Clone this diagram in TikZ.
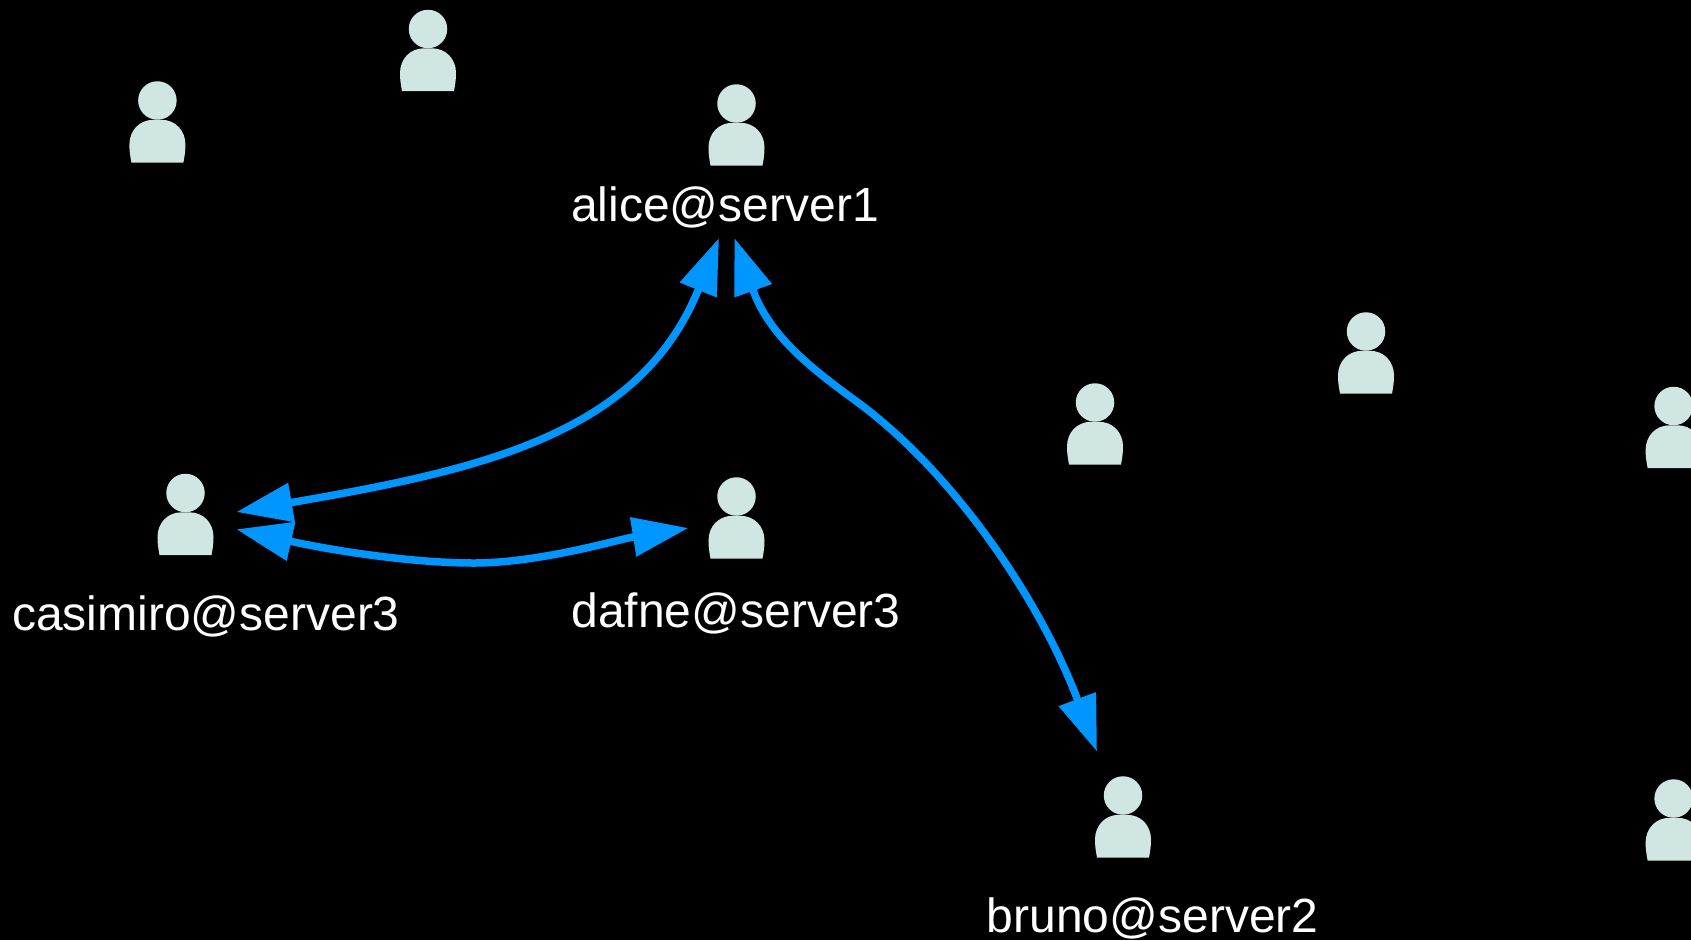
\documentclass[tikz,border=0pt]{standalone}
\usepackage{fontspec}
\setmainfont{Liberation Sans}
\usetikzlibrary{arrows.meta}

\definecolor{personfill}{HTML}{CFE6E3}
\definecolor{linkblue}{HTML}{0096FF}

\tikzset{
  personhead/.style={circle,fill=personfill,inner sep=0pt,minimum size=38.5pt},
  username/.style={anchor=base,text=white,inner sep=0pt,font=\fontsize{48}{56}\selectfont},
  link/.style={draw=linkblue,line width=7.5pt,{Triangle[length=56pt,width=38pt,fill=linkblue]}-{Triangle[length=56pt,width=38pt,fill=linkblue]}},
  person/.pic={
    \node[personhead] (head) at (0,0) {};
    \fill[personfill] (-26,62) -- (26,62) .. controls (27.5,54) and (28,50) .. (28,44)
      .. controls (28,30) and (18,19.3) .. (4,19.3) -- (-4,19.3)
      .. controls (-18,19.3) and (-28,30) .. (-28,44) .. controls (-28,50) and (-27.5,54) .. (-26,62) -- cycle;
  }
}

\begin{document}
\begin{tikzpicture}[x=1pt,y=-1pt]

      \fill[black] (0,0) rectangle (1691,940);
      \useasboundingbox (0,0) rectangle (1691,940);

      \pic (alice) at (736.5,103.5) {person};
      \pic (bruno) at (1123,795.5) {person};
      \pic (casimiro) at (185.5,493) {person};
      \pic (dafne) at (736.5,496.5) {person};
      \pic (userA) at (157.4,100.5) {person};
      \pic (userB) at (428,29) {person};
      \pic (userC) at (1095,402.5) {person};
      \pic (userD) at (1366,331.5) {person};
      \pic (userE) at (1673.6,406) {person};
      \pic (userF) at (1673.6,798.5) {person};

      \node[username] (alicename) at (725,221) {alice@server1};
      \node[username] (brunoname) at (1152.7,932) {bruno@server2};
      \node[username] (casimironame) at (206,630) {casimiro@server3};
      \node[username] (dafnename) at (736,627.7) {dafne@server3};

      \coordinate (aliceleft) at (719,238);
      \coordinate (aliceright) at (734.4,238);
      \coordinate (alicemid) at (860,404);
      \coordinate (brunotop) at (1097,751.5);
      \coordinate (casimiroupper) at (236.4,512);
      \coordinate (casimirolower) at (236.4,529.3);
      \coordinate (dafneleft) at (688.4,528);
      \coordinate (dafnemid) at (474,563);

      \path[link] (aliceleft) .. controls (640,435) and (480,470) .. (casimiroupper);
      \path[link] (casimirolower) .. controls (330,550) and (410,563) .. (dafnemid)
        .. controls (540,563) and (620,539) .. (dafneleft);
      \path[link] (aliceright) .. controls (770,338) and (815,371) .. (alicemid)
        .. controls (955,475) and (1040,600) .. (brunotop);

    \end{tikzpicture}
\end{document}
